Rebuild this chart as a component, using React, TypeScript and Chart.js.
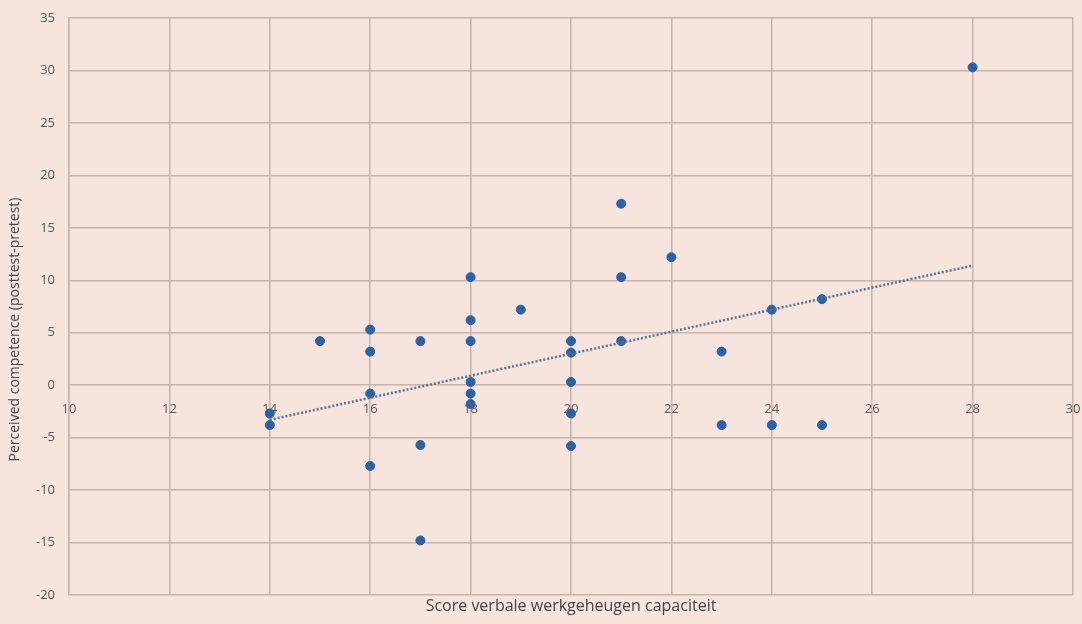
import React, { useEffect, useRef } from "react";
import { Chart, registerables } from "chart.js";

Chart.register(...registerables);

const scoreX = [14, 14, 15, 16, 16, 16, 16, 17, 17, 17, 18, 18, 18, 18, 18, 18, 19, 20, 20, 20, 20, 20, 21, 21, 21, 22, 23, 23, 24, 24, 25, 25, 28];
const competenceY = [-2.7, -3.8, 4.2, 5.3, 3.2, -0.8, -7.7, 4.2, -5.7, -14.8, 10.3, 6.2, 4.2, 0.3, -0.8, -1.8, 7.2, 4.2, 3.1, 0.3, -2.7, -5.8, 17.3, 10.3, 4.2, 12.2, 3.2, -3.8, 7.2, -3.8, 8.2, -3.8, 30.3];
const trendX = [14, 28];
const trendY = [-3.3, 11.4];

const xTitle = "Score verbale werkgeheugen capaciteit";
const yTitle = "Perceived competence (posttest-pretest)";

const BG = "#f7e4dc";
const GRID = "#c6b4ab";
const TEXT = "#595959";
const TITLE = "#454545";

export default function App() {
  const ref = useRef<HTMLCanvasElement | null>(null);

  useEffect(() => {
    if (!ref.current) return;
    const bgPlugin = {
      id: "bg",
      beforeDraw(chart: any) {
        const { ctx, width, height } = chart;
        ctx.save();
        ctx.fillStyle = BG;
        ctx.fillRect(0, 0, width, height);
        ctx.restore();
      },
      afterDraw(chart: any) {
        const { ctx, chartArea, height } = chart;
        ctx.save();
        ctx.fillStyle = TITLE;
        ctx.textAlign = "center";
        ctx.textBaseline = "middle";
        ctx.font = '16px "Open Sans"';
        ctx.fillText(xTitle, (chartArea.left + chartArea.right) / 2, height - 18);
        ctx.font = '14px "Open Sans"';
        ctx.translate(15, (chartArea.top + chartArea.bottom) / 2 + 23);
        ctx.rotate(-Math.PI / 2);
        ctx.fillText(yTitle, 0, 0);
        ctx.restore();
      },
    };

    const points = scoreX.map((x, i) => ({ x, y: competenceY[i] }));
    const trend = trendX.map((x, i) => ({ x, y: trendY[i] }));

    const chart = new Chart(ref.current, {
      type: "scatter",
      data: {
        datasets: [
          {
            type: "line",
            data: trend,
            borderColor: "#4f739c",
            borderWidth: 2.5,
            borderDash: [2, 2],
            pointRadius: 0,
            fill: false,
          } as any,
          {
            data: points,
            backgroundColor: "#2a62a6",
            borderColor: "#2a62a6",
            pointRadius: 4.5,
          },
        ],
      },
      options: {
        animation: false,
        responsive: true,
        maintainAspectRatio: false,
        layout: { padding: { left: 0, top: 18, right: 9, bottom: 29 } },
        plugins: {
          legend: { display: false },
          tooltip: { enabled: false },
        },
        scales: {
          x: {
            type: "linear",
            position: { y: 0 } as any,
            min: 10,
            max: 30,
            ticks: {
              stepSize: 2,
              color: TEXT,
              font: { family: "Open Sans", size: 13 },
              padding: 16,
            },
            grid: { color: GRID, lineWidth: 1.5, drawTicks: false },
            border: { display: false },
            afterFit(scale: any) {
              scale.paddingLeft = 0;
              scale.paddingRight = 0;
            },
          },
          y: {
            type: "linear",
            min: -20,
            max: 35,
            ticks: {
              stepSize: 5,
              color: TEXT,
              font: { family: "Open Sans", size: 13 },
              padding: 14,
            },
            grid: { color: GRID, lineWidth: 1.5, drawTicks: false },
            border: { display: true, color: GRID, width: 1.5 },
            afterFit(scale: any) {
              scale.width = 69;
              scale.paddingTop = 0;
              scale.paddingBottom = 0;
            },
          },
        },
      },
      plugins: [bgPlugin],
    });
    return () => chart.destroy();
  }, []);

  return (
    <div style={{ position: "fixed", left: 0, top: 0, width: 1082, height: 624, background: BG }}>
      <canvas ref={ref} />
    </div>
  );
}
